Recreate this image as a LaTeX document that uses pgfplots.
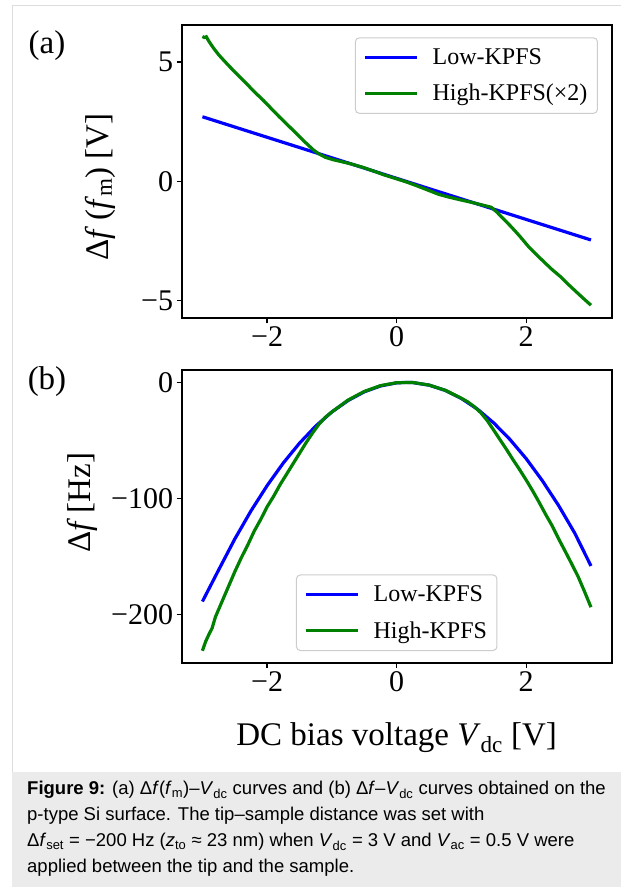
\documentclass[border=0pt]{standalone}
\usepackage{fontspec}
\setmainfont{Liberation Serif}
\newfontfamily\capfont{Liberation Sans}
\usepackage{pgfplots}
\pgfplotsset{compat=1.18}
\definecolor{mplblue}{HTML}{0000FF}
\definecolor{mplgreen}{HTML}{008000}
\definecolor{capgray}{HTML}{EBEBEB}
\definecolor{framegray}{HTML}{DDDDDD}

\pgfplotsset{
  kpfs/.style={
    scale only axis, width=430pt, height=293pt,
    xmin=-3.32, xmax=3.32,
    axis line style={line width=2.2pt},
    tick align=outside, xtick pos=bottom, ytick pos=left,
    major tick length=5pt,
    tick style={black, line width=1.4pt},
    tick label style={font=\fontsize{30}{36}\selectfont},
    xtick={-2,0,2}, xticklabels={−2,0,2},
    label style={font=\fontsize{33}{40}\selectfont},
    legend cell align=left,
    legend image code/.code={\draw[##1] (0pt,0pt) -- (52pt,0pt);},
    legend style={draw=black!20, rounded corners=4pt, line width=1pt, fill=white,
      font=\fontsize{24}{28}\selectfont, row sep=14pt, column sep=12pt,
      inner xsep=8pt, inner ysep=9pt},
  },
  low/.style={mplblue, line width=3.2pt},
  high/.style={mplgreen, line width=3.2pt},
}

\begin{document}
\begin{tikzpicture}[x=1pt, y=1pt]
\useasboundingbox (0,0) rectangle (621,-887);
% page frame and caption box
\draw[framegray, line width=1pt] (12,-772) -- (12,-5) -- (621,-5);
\fill[capgray] (12,-772) rectangle (621,-887);

% (a)
\begin{axis}[kpfs,
    at={(181.7pt,-318.3pt)}, anchor=south west,
    ymin=-5.74, ymax=6.53,
    ytick={-5,0,5}, yticklabels={−5,0,5},
    ylabel={Δ\textit{f}\,(\textit{f}\textsubscript{m}) [V]},
    ylabel style={at={(axis description cs:-0.19,0.448)}, anchor=center},
    legend style={at={(1,1)}, anchor=north east, xshift=-13.7pt, yshift=-12pt},
]
\addplot[low] table {
-3.0  2.70
-2.0  1.84
-1.0  0.98
 0.0  0.12
 1.0 -0.74
 2.0 -1.60
 3.0 -2.46
};
\addlegendentry{Low-KPFS}
\addplot[high] table {
-3.00  6.06
-2.97  6.02
-2.94  6.05
-2.90  5.86
-2.83  5.58
-2.75  5.30
-2.67  5.06
-2.58  4.80
-2.50  4.58
-2.40  4.31
-2.32  4.09
-2.20  3.75
-2.06  3.39
-1.95  3.08
-1.81  2.69
-1.70  2.40
-1.55  2.00
-1.42  1.65
-1.29  1.32
-1.21  1.16
-1.10  1.00
-0.98  0.90
-0.85  0.82
-0.70  0.72
-0.52  0.58
-0.35  0.42
-0.20  0.27
 0.00  0.10
 0.15 -0.03
 0.30 -0.18
 0.49 -0.38
 0.65 -0.55
 0.80 -0.66
 1.00 -0.79
 1.15 -0.88
 1.30 -0.98
 1.46 -1.09
 1.55 -1.30
 1.65 -1.58
 1.77 -1.91
 1.90 -2.30
 2.03 -2.72
 2.15 -3.05
 2.29 -3.42
 2.40 -3.70
 2.54 -4.02
 2.65 -4.32
 2.80 -4.70
 2.90 -4.95
 3.00 -5.19
};
\addlegendentry{High-KPFS(×2)}
\end{axis}

% (b)
\begin{axis}[kpfs,
    at={(181.7pt,-662.7pt)}, anchor=south west,
    ymin=-241.3, ymax=10.9,
    ytick={-200,-100,0}, yticklabels={−200,−100,0},
    ylabel={Δ\textit{f}\,[Hz]},
    ylabel style={at={(axis description cs:-0.232,0.546)}, anchor=center},
    xlabel={DC bias voltage \textit{V}\textsubscript{dc} [V]},
    xlabel style={at={(axis description cs:0.5,-0.282)}, anchor=base},
    legend style={at={(0.5,0)}, anchor=south, yshift=11.7pt},
]
\addplot[low] table {
-3.00 -188.6
-2.75 -161.5
-2.50 -134.8
-2.25 -110.6
-2.00  -88.8
-1.75  -69.3
-1.50  -52.3
-1.25  -37.6
-1.00  -25.4
-0.75  -15.6
-0.50   -8.1
-0.25   -3.1
 0.00   -0.4
 0.15    0.0
 0.25   -0.2
 0.50   -2.4
 0.75   -6.9
 1.00  -13.9
 1.25  -23.2
 1.50  -35.0
 1.75  -49.2
 2.00  -65.7
 2.25  -84.7
 2.50 -106.0
 2.75 -129.8
 3.00 -158.0
};
\addlegendentry{Low-KPFS}
\addplot[high] table {
-3.00 -231.0
-2.95 -223.0
-2.90 -217.0
-2.85 -211.5
-2.80 -202.0
-2.70 -189.0
-2.60 -176.0
-2.50 -163.0
-2.40 -151.0
-2.30 -140.0
-2.20 -128.0
-2.10 -118.0
-2.00 -107.0
-1.90  -98.0
-1.80  -88.0
-1.70  -79.0
-1.60  -70.0
-1.50  -61.0
-1.40  -52.0
-1.30  -43.6
-1.20  -36.0
-1.10  -30.0
-1.00  -25.4
-0.75  -15.2
-0.50   -7.8
-0.25   -2.8
 0.00   -0.3
 0.25   -0.1
 0.50   -2.3
 0.75   -6.8
 1.00  -13.7
 1.10  -16.9
 1.20  -21.0
 1.30  -26.2
 1.40  -33.0
 1.50  -41.3
 1.60  -49.7
 1.70  -58.1
 1.80  -66.9
 1.90  -75.3
 2.00  -84.1
 2.10  -93.4
 2.20 -103.3
 2.30 -113.6
 2.40 -123.4
 2.50 -134.6
 2.60 -145.2
 2.70 -156.0
 2.80 -167.0
 2.90 -180.0
 3.00 -193.5
};
\addlegendentry{High-KPFS}
\end{axis}

% panel labels
\node[font=\fontsize{33}{40}\selectfont] at (47,-46) {(a)};
\node[font=\fontsize{33}{40}\selectfont] at (47,-382) {(b)};

% caption
\node[anchor=north west, align=left, inner sep=0pt,
      font=\capfont\fontsize{18.5}{26}\selectfont] at (27,-781) {%
\textbf{Figure 9:} (a) Δ\textit{f}(\textit{f}\textsubscript{m})–\textit{V}\textsubscript{dc} curves and (b) Δ\textit{f}–\textit{V}\textsubscript{dc} curves obtained on the\\
p-type Si surface. The tip–sample distance was set with\\
Δ\textit{f}\textsubscript{set} = −200 Hz (\textit{z}\textsubscript{to} ≈ 23 nm) when \textit{V}\textsubscript{dc} = 3 V and \textit{V}\textsubscript{ac} = 0.5 V were\\
applied between the tip and the sample.};
\end{tikzpicture}
\end{document}
